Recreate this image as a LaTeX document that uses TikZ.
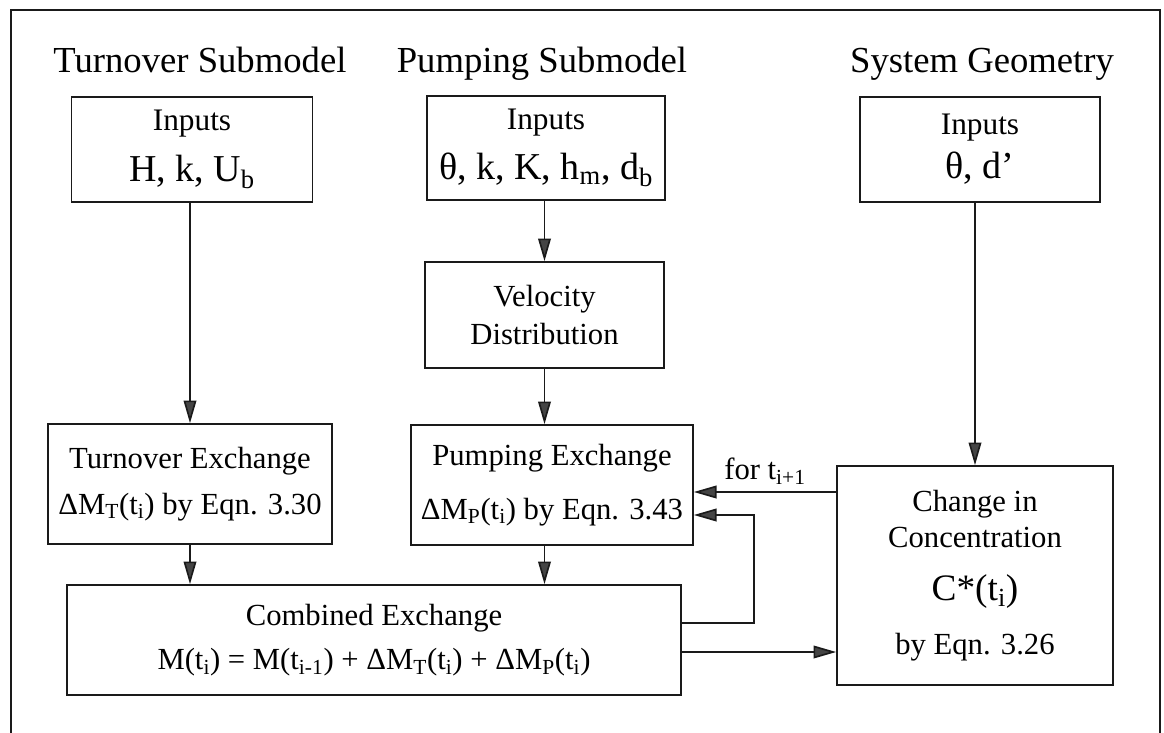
\documentclass[tikz,border=0pt]{standalone}
\usepackage{fontspec}
\setmainfont{Liberation Serif}
\usetikzlibrary{calc,arrows.meta}
\definecolor{ink}{HTML}{1A1A1A}
\definecolor{headfill}{HTML}{444444}
\newcommand{\lo}[1]{\textsubscript{#1}}
\newcommand{\smallfs}{\fontsize{23.5}{27}\selectfont}
\newcommand{\bigfs}{\fontsize{28.5}{33}\selectfont}
\tikzset{
  blk/.style={draw=ink, line width=1.25pt, align=center, inner sep=0pt,
    font=\fontsize{23}{28}\selectfont},
  arr/.style={draw=ink, line width=1.25pt,
    -{Triangle[length=17pt,width=9.5pt,fill=headfill]}},
  ttl/.style={anchor=base, font=\fontsize{27.5}{32}\selectfont},
  lab/.style={font=\fontsize{23}{28}\selectfont}
}

\begin{document}
\begin{tikzpicture}[x=0.75pt, y=-0.75pt]
  \useasboundingbox (0,0) rectangle (1164,732);
  \draw[ink, line width=1.25pt] (11,745) -- (11,10) -- (1160,10) -- (1160,745);

  % column titles
  \node[ttl] (tT) at (200,72) {Turnover Submodel};
  \node[ttl] (tP) at (542,72) {Pumping Submodel};
  \node[ttl] (tG) at (982,72) {System Geometry};

  % inputs
  \node[blk, minimum width=180.75pt, minimum height=78.75pt] (inT) at (192,149.5)
    {{\smallfs Inputs}\\[10pt]{\bigfs H, k, U\lo{b}}};
  \node[blk, minimum width=178.5pt, minimum height=78pt] (inP) at (546,148)
    {{\smallfs Inputs}\\[9pt]{\bigfs θ, k, K, h\lo{m}, d\lo{b}}};
  \node[blk, minimum width=180pt, minimum height=78.75pt] (inG) at (980,149.5)
    {{\smallfs Inputs}\\[5pt]{\bigfs θ, d’}};

  \node[blk, minimum width=179.25pt, minimum height=79.5pt] (vel) at (544.5,315)
    {Velocity\\[0pt]Distribution};

  % exchanges
  \node[blk, minimum width=213pt, minimum height=90pt] (exT) at (190,484)
    {Turnover Exchange\\[6pt]ΔM\lo{T}(t\lo{i}) by Eqn. 3.30};
  \node[blk, minimum width=211.5pt, minimum height=90pt] (exP) at (552,485)
    {Pumping Exchange\\[12pt]ΔM\lo{P}(t\lo{i}) by Eqn. 3.43};
  \node[blk, minimum width=460.5pt, minimum height=82.5pt] (exC) at (374,640)
    {Combined Exchange\\[5pt]M(t\lo{i}) = M(t\lo{i-1}) + ΔM\lo{T}(t\lo{i}) + ΔM\lo{P}(t\lo{i})};
  \node[blk, minimum width=207pt, minimum height=164.25pt] (conc) at (975,575.5)
    {Change in\\[-1pt]Concentration\\[12pt]{\fontsize{28}{32}\selectfont C*(t\lo{i})}\\[12pt]by Eqn. 3.26};

  % connectors
  \draw[arr] (inT.south -| exT.north) -- (exT.north);
  \draw[arr] (inP.south -| vel.south) -- (vel.north);
  \draw[arr] (vel.south) -- (vel.south |- exP.north);
  \draw[arr] (inG.south -| conc.north) -- (conc.north);
  \draw[arr] (exT.south) -- (exT.south |- exC.north);
  \draw[arr] (vel.south |- exP.south) -- (vel.south |- exC.north);

  \coordinate (loopA) at ($(exC.east)+(0,-17)$);
  \coordinate (loopB) at ($(exP.east)+(0,30)$);
  \draw[arr] (loopA) -- ++(72,0) |- (loopB);
  \coordinate (next) at ($(conc.west)+(0,-83.5)$);
  \draw[arr] (next) -- (next -| exP.east)
    node[lab, midway, above=2pt] (forlab) {for t\lo{i+1}};
  \coordinate (out) at ($(exC.east)+(0,12)$);
  \draw[arr] (out) -- (out -| conc.west);
\end{tikzpicture}
\end{document}
